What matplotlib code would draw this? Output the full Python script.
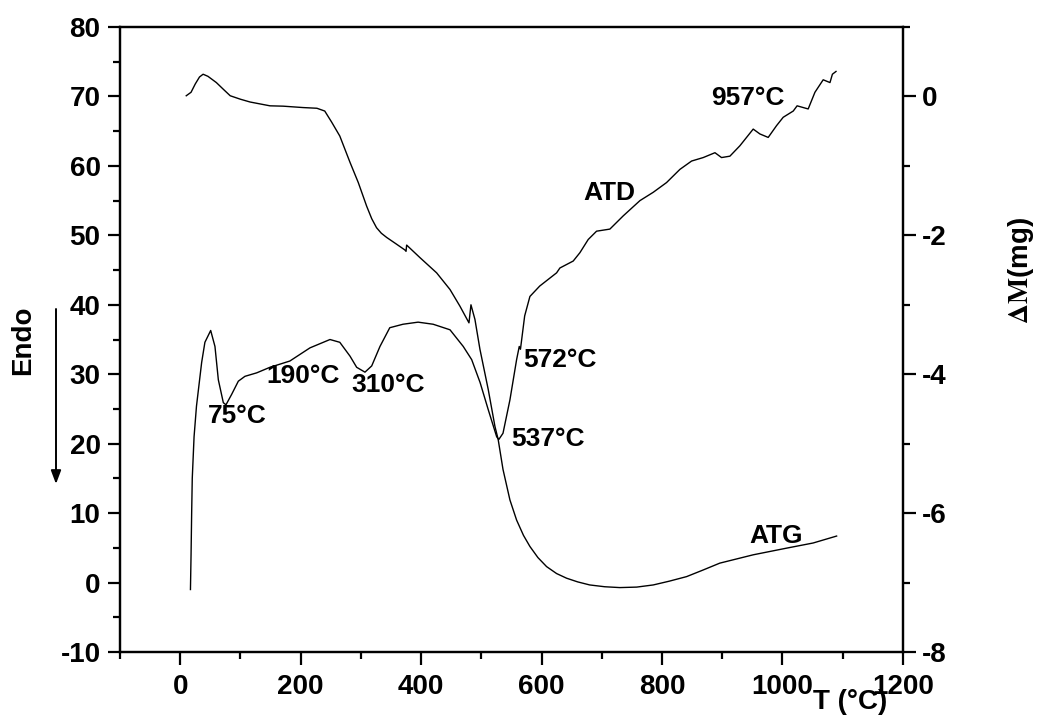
import numpy as np
import matplotlib
matplotlib.use("Agg")
import matplotlib.pyplot as plt
from matplotlib.ticker import MultipleLocator

plt.rcParams['font.family'] = ['Liberation Sans', 'DejaVu Sans']
plt.rcParams['font.weight'] = 'bold'
plt.rcParams['mathtext.fontset'] = 'stix'
plt.rcParams['axes.unicode_minus'] = False

# ATD curve (left axis units)
atd_t = [17, 18, 19, 20, 23, 27, 35.6, 41, 50.6, 57.7, 63.3, 71.6, 76, 85.4, 96.5, 107.5,
         127, 149, 182, 215.5, 248.7, 265, 282, 293, 306.8, 318, 331.7, 348, 370, 395,
         420, 448, 470, 484, 498, 511.5, 525.5, 529, 536, 547.5, 558.6, 563, 565, 572,
         580.7, 597, 625, 630.5, 652.6, 663.7, 677.5, 691.4, 713.5, 735.6, 763.4, 785.5,
         807.6, 829.8, 849.2, 868.5, 888, 898.9, 912.8, 929.4, 951.5, 962.6, 976.4, 990.3,
         1001.3, 1018, 1024.4, 1042.8, 1054, 1067.7, 1079, 1083, 1089]
atd_v = [-1.0, 4, 10, 15, 21, 25.4, 31.7, 34.6, 36.3, 34.0, 29.2, 25.9, 25.6, 27.1, 29.0, 29.7,
         30.2, 31.0, 31.9, 33.8, 35.0, 34.6, 32.6, 31.0, 30.3, 31.2, 34.0, 36.7, 37.2, 37.5,
         37.2, 36.4, 34.0, 32.1, 28.8, 24.9, 21.0, 20.6, 21.5, 26.3, 32.1, 34.0, 33.6, 38.4,
         41.2, 42.7, 44.6, 45.3, 46.3, 47.5, 49.4, 50.6, 50.9, 52.8, 55.0, 56.2,
         57.6, 59.5, 60.7, 61.2, 61.9, 61.2, 61.4, 62.9, 65.3, 64.6, 64.1, 65.8,
         67.0, 67.9, 68.65, 68.2, 70.6, 72.4, 72.0, 73.2, 73.6]

# ATG curve (read in left-axis units, converted to mg below)
atg_t = [10, 18, 25, 32, 38, 46, 60, 72, 83, 100, 116, 149, 171, 204, 227, 240, 251.5, 265,
         282, 295.7, 309.6, 318, 326, 334, 342.8, 358, 373, 375, 376, 398, 425.8, 448, 464.5,
         479.5, 482.8, 489.4, 497.7, 511.5, 522.6, 528, 536, 547.5, 558.6, 570, 580.7, 594,
         608.4, 625, 641.6, 660, 680, 705, 730, 758, 785.5, 812, 840.9, 868, 896, 951.5,
         1007, 1051, 1090]
atg_left = [70.1, 70.6, 71.8, 72.8, 73.2, 72.9, 72.0, 71.0, 70.1, 69.6, 69.2, 68.65, 68.6,
            68.4, 68.3, 67.9, 66.3, 64.3, 60.5, 57.6, 54.2, 52.4, 51.1, 50.3, 49.7, 48.8,
            47.9, 47.7, 48.6, 46.8, 44.6, 42.2, 39.8, 37.4, 40.0, 37.9, 33.6, 27.8, 22.5,
            20.6, 16.3, 11.9, 9.0, 6.8, 5.2, 3.6, 2.3, 1.3, 0.63, 0.1, -0.34, -0.6, -0.72,
            -0.65, -0.34, 0.2, 0.86, 1.8, 2.8, 4.0, 4.96, 5.7, 6.7]
atg_mg = [(v - 70) / 10 for v in atg_left]

peaks = ['75°C', '190°C', '310°C', '537°C', '572°C', '957°C']
peak_xy = [(94, 24), (204, 29.8), (345, 28.4), (611, 20.7), (631, 32.1), (943, 69.8)]

fig = plt.figure(figsize=(10.48, 7.2), dpi=100)
ax = fig.add_axes([0.1145, 0.0944, 0.747, 0.8681])
ax2 = ax.twinx()

ax.plot(atd_t, atd_v, color='black', lw=1.0)
ax2.plot(atg_t, atg_mg, color='black', lw=1.0)

ax.set_xlim(-100, 1200)
ax.set_ylim(-10, 80)
ax2.set_ylim(-8, 1)

ax.xaxis.set_major_locator(MultipleLocator(200))
ax.xaxis.set_minor_locator(MultipleLocator(100))
ax.yaxis.set_major_locator(MultipleLocator(10))
ax.yaxis.set_minor_locator(MultipleLocator(5))
ax2.yaxis.set_major_locator(MultipleLocator(2))
ax2.yaxis.set_minor_locator(MultipleLocator(1))

for a in (ax, ax2):
    for s in a.spines.values():
        s.set_linewidth(1.6)
    a.tick_params(which='major', direction='out', length=9, width=1.6, labelsize=20, pad=5)
    a.tick_params(which='minor', direction='out', length=5, width=1.6)
ax.tick_params(axis='x', pad=7)
ax.tick_params(top=False, which='both')
ax.set_xticks([0, 200, 400, 600, 800, 1000, 1200])

for lab, (x, y) in zip(peaks, peak_xy):
    ax.text(x, y, lab, fontsize=19, fontweight='bold', ha='center', va='center')
ax.text(713, 56.1, 'ATD', fontsize=19, fontweight='bold', ha='center', va='center')
ax.text(989, 6.7, 'ATG', fontsize=19, fontweight='bold', ha='center', va='center')

fig.text(850 / 1048, 1 - 702 / 720, 'T (°C)', fontsize=20, fontweight='bold',
         ha='center', va='center')
fig.text(23 / 1048, 1 - 340 / 720, 'Endo', fontsize=20, fontweight='bold',
         rotation=90, ha='center', va='center')
fig.text(1021 / 1048, 1 - 271 / 720, r'$\mathrm{\Delta M}$(mg)', fontsize=20,
         fontweight='bold', rotation=90, ha='center', va='center')
fig.add_artist(matplotlib.patches.FancyArrowPatch(
    (56 / 1048, 1 - 309 / 720), (56 / 1048, 1 - 484 / 720), transform=fig.transFigure,
    arrowstyle='-|>,head_length=8,head_width=3', color='black', lw=1.4,
    shrinkA=0, shrinkB=0))

fig.savefig('out.png', dpi=100)
